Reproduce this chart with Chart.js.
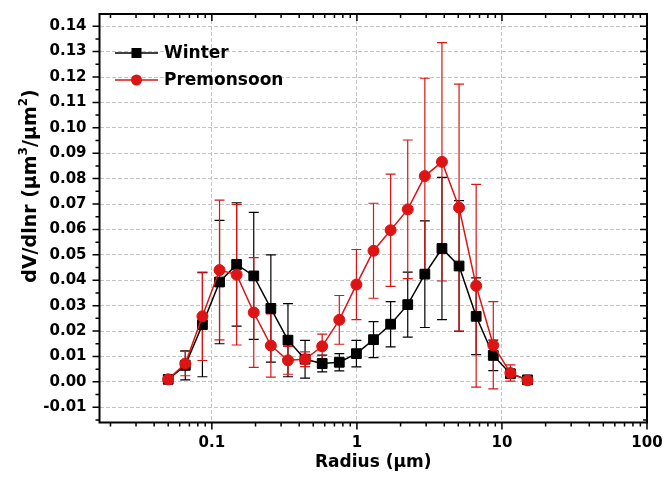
<!DOCTYPE html>
<html><head><meta charset="utf-8">
<script src="https://cdn.jsdelivr.net/npm/chart.js@4/dist/chart.umd.min.js"></script>
<style>html,body{margin:0;padding:0;background:#fff;}#wrap{width:665px;height:477px;}</style>
</head><body><div id="wrap"><canvas id="c" width="665" height="477"></canvas></div>
<script>
// ---- data ----
const radius = [0.05, 0.065604, 0.086077, 0.112939, 0.148184, 0.194429, 0.255105, 0.334716, 0.439173, 0.576227, 0.756052, 0.991996, 1.301571, 1.707757, 2.240702, 2.939966, 3.857452, 5.06126, 6.640745, 8.713145, 11.432287, 15.0];
const winter = [0.001, 0.0065, 0.0225, 0.0393, 0.0462, 0.0417, 0.0289, 0.0164, 0.0089, 0.0072, 0.0077, 0.0111, 0.0166, 0.0227, 0.0304, 0.0424, 0.0525, 0.0456, 0.0258, 0.0104, 0.0032, 0.0008];
const winterErr = [0.0005, 0.0057, 0.0205, 0.0243, 0.0243, 0.025, 0.0211, 0.0144, 0.0074, 0.0033, 0.0034, 0.0052, 0.0071, 0.0089, 0.0128, 0.021, 0.028, 0.0257, 0.0151, 0.006, 0.0015, 0.0003];
const premonsoon = [0.001, 0.0072, 0.0258, 0.044, 0.0422, 0.0273, 0.0143, 0.0085, 0.0089, 0.014, 0.0244, 0.0383, 0.0516, 0.0597, 0.0679, 0.081, 0.0866, 0.0686, 0.0378, 0.0144, 0.0035, 0.0006];
const premonsoonErr = [0.0005, 0.0048, 0.0174, 0.0275, 0.0277, 0.0216, 0.0124, 0.0055, 0.0029, 0.0048, 0.0096, 0.0138, 0.0187, 0.0221, 0.0273, 0.0385, 0.0469, 0.0486, 0.0399, 0.0172, 0.0032, 0.0004];
const seriesNames = ['Winter', 'Premonsoon'];
const xTickValues = [0.1, 1, 10, 100];
const xTickLabels = ['0.1', '1', '10', '100'];
const yTickValues = [-0.01, 0, 0.01, 0.02, 0.03, 0.04, 0.05, 0.06, 0.07, 0.08, 0.09, 0.10, 0.11, 0.12, 0.13, 0.14];
const yTickLabels = ['-0.01', '0.00', '0.01', '0.02', '0.03', '0.04', '0.05', '0.06', '0.07', '0.08', '0.09', '0.10', '0.11', '0.12', '0.13', '0.14'];
const xTitle = 'Radius (\u03bcm)';
const yTitleParts = [['dV/dlnr (\u03bcm', false], ['3', true], ['/\u03bcm', false], ['2', true], [')', false]];

// ---- style ----
const FONT = 'DejaVu Sans';
const RED = '#dc1414';
const BLACK = '#000000';

const toXY = (vals) => vals.map((v, i) => ({x: radius[i], y: v}));
const zeroPad = (s) => { s.paddingTop = 0; s.paddingBottom = 0; s.paddingLeft = 0; s.paddingRight = 0; };

const errPlugin = {
  id: 'errbars',
  beforeDatasetsDraw(chart) {
    const {ctx, scales: {y}} = chart;
    ctx.save();
    ctx.lineWidth = 1.2;
    chart.data.datasets.forEach((ds, di) => {
      const meta = chart.getDatasetMeta(di);
      ctx.strokeStyle = ds.borderColor;
      meta.data.forEach((pt, i) => {
        const v = ds.data[i].y, e = ds.errors[i];
        const px = pt.x;
        const t = y.getPixelForValue(v + e), b = y.getPixelForValue(v - e);
        const w = 5;
        ctx.beginPath();
        ctx.moveTo(px, t); ctx.lineTo(px, b);
        ctx.moveTo(px - w, t); ctx.lineTo(px + w, t);
        ctx.moveTo(px - w, b); ctx.lineTo(px + w, b);
        ctx.stroke();
      });
    });
    ctx.restore();
  }
};

const axesPlugin = {
  id: 'axesFrame',
  afterDatasetsDraw(chart) {
    const {ctx, chartArea: a, scales: {x, y}} = chart;
    ctx.save();
    ctx.strokeStyle = '#000';
    ctx.lineWidth = 1.5;
    ctx.beginPath();
    for (let d = -2; d <= 2; d++) {
      for (let m = 1; m <= 9; m++) {
        const v = m * Math.pow(10, d);
        if (v < x.min * 0.9999 || v > x.max * 1.0001) continue;
        const px = x.getPixelForValue(v);
        const len = m === 1 ? 7 : 4;
        ctx.moveTo(px, a.bottom); ctx.lineTo(px, a.bottom + len);
        ctx.moveTo(px, a.top); ctx.lineTo(px, a.top + len);
      }
    }
    for (let k = -15; k <= 145; k += 5) {
      const v = k / 1000;
      if (v < y.min || v > y.max) continue;
      const py = y.getPixelForValue(v);
      const len = (k % 10 === 0) ? 7 : 4;
      ctx.moveTo(a.left - len, py); ctx.lineTo(a.left, py);
      ctx.moveTo(a.right - len, py); ctx.lineTo(a.right, py);
    }
    ctx.stroke();
    ctx.lineWidth = 2;
    ctx.strokeRect(a.left, a.top, a.right - a.left, a.bottom - a.top);
    ctx.restore();
  },
  afterDraw(chart) {
    const {ctx} = chart;
    ctx.save();
    // legend
    chart.data.datasets.forEach((ds, i) => {
      const yy = 53 + i * 27;
      ctx.strokeStyle = ds.borderColor;
      ctx.lineWidth = 1.5;
      ctx.beginPath(); ctx.moveTo(115, yy); ctx.lineTo(158, yy); ctx.stroke();
      ctx.fillStyle = ds.backgroundColor;
      if (ds.pointStyle === 'rect') {
        ctx.fillRect(136.5 - 5, yy - 5, 10, 10);
      } else {
        ctx.beginPath(); ctx.arc(136.5, yy, 5.5, 0, Math.PI * 2); ctx.fill();
      }
      ctx.fillStyle = '#000';
      ctx.font = 'bold 17px "' + FONT + '"';
      ctx.textBaseline = 'middle';
      ctx.textAlign = 'left';
      ctx.fillText(ds.label, 164, yy + 1);
    });
    // y-axis title with superscripts
    const big = 'bold 19px "' + FONT + '"', small = 'bold 12px "' + FONT + '"';
    let total = 0;
    yTitleParts.forEach(([t, sup]) => { ctx.font = sup ? small : big; total += ctx.measureText(t).width; });
    ctx.translate(31, 186);
    ctx.rotate(-Math.PI / 2);
    ctx.textBaseline = 'middle';
    ctx.textAlign = 'left';
    let cx = -total / 2;
    yTitleParts.forEach(([t, sup]) => {
      ctx.font = sup ? small : big;
      ctx.fillText(t, cx, sup ? -7 : 0);
      cx += ctx.measureText(t).width;
    });
    ctx.restore();
  }
};

new Chart(document.getElementById('c'), {
  type: 'line',
  data: {
    datasets: [
      {label: seriesNames[0], data: toXY(winter), errors: winterErr, borderColor: BLACK, backgroundColor: BLACK,
       pointStyle: 'rect', pointRadius: 6.9, pointBorderWidth: 1, borderWidth: 1.5, tension: 0, order: 2},
      {label: seriesNames[1], data: toXY(premonsoon), errors: premonsoonErr, borderColor: RED, backgroundColor: RED,
       pointStyle: 'circle', pointRadius: 5.5, pointBorderWidth: 1, borderWidth: 1.5, tension: 0, order: 1}
    ]
  },
  options: {
    responsive: false,
    animation: false,
    devicePixelRatio: 1,
    layout: {autoPadding: false, padding: {left: 0, right: 18, top: 14, bottom: 0}},
    plugins: {legend: {display: false}, tooltip: {enabled: false}},
    scales: {
      x: {
        type: 'logarithmic', min: 0.0168, max: 100,
        afterBuildTicks: (s) => { s.ticks = xTickValues.map(v => ({value: v})); },
        afterFit: (s) => { s.height = 54.5; zeroPad(s); },
        ticks: {callback: (v, i) => xTickLabels[i], color: '#000', padding: 12, maxRotation: 0, autoSkip: false,
                font: {family: FONT, size: 15, weight: 'bold'}},
        grid: {color: '#c4c4c4', lineWidth: 1, drawTicks: false},
        border: {display: false, dash: [4, 2]},
        title: {display: true, text: xTitle, color: '#000', padding: {top: 2, bottom: 4},
                font: {family: FONT, size: 17, weight: 'bold'}}
      },
      y: {
        type: 'linear', min: -0.016, max: 0.1448,
        afterBuildTicks: (s) => { s.ticks = yTickValues.map(v => ({value: v})); },
        afterFit: (s) => { s.width = 99.5; zeroPad(s); },
        ticks: {callback: (v, i) => yTickLabels[i], color: '#000', padding: 13, autoSkip: false,
                font: {family: FONT, size: 15, weight: 'bold'}},
        grid: {color: '#c4c4c4', lineWidth: 1, drawTicks: false},
        border: {display: false, dash: [4, 2]}
      }
    }
  },
  plugins: [errPlugin, axesPlugin]
});
</script></body></html>
